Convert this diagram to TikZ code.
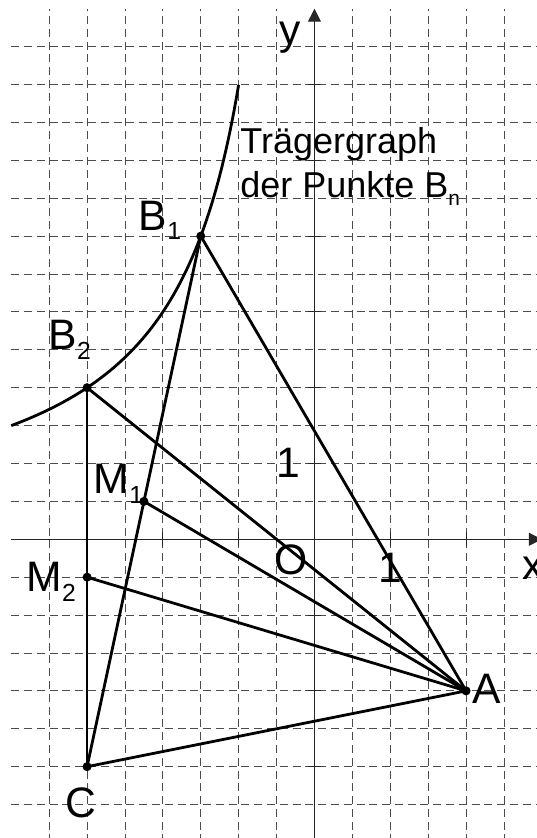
\documentclass[tikz,border=0pt]{standalone}
\usepackage{fontspec}
\setmainfont{Liberation Sans}
\usetikzlibrary{arrows.meta}
\newcommand\lowsub[1]{\raisebox{-.23em}{\scalebox{.58}{#1}}}

\begin{document}
\begin{tikzpicture}[x=2cm,y=2cm,
  grid/.style={black!70,line width=.7pt,dash pattern=on 6pt off 3.6pt},
  axis/.style={black!85,line width=.75pt},
  seg/.style={line width=2.1pt,line join=round},
  lab/.style={inner sep=0pt,font=\fontsize{32}{38}\selectfont},
  note/.style={inner sep=0pt,align=left,font=\fontsize{27}{33}\selectfont}]
\clip (-4.149,-3.941) rectangle (2.935,7.115);
\foreach \v in {-3.5,-3,...,-.5,.5,1,...,2.5}
  \draw[grid] (\v,-4)--(\v,7);
\foreach \h in {-3.5,-3,...,-.5,.5,1,...,6.5}
  \draw[grid] (-4,\h)--(3,\h);
\draw[axis,-{Triangle[length=3.4mm,width=3.4mm]}] (-4,0)--(3,0);
\draw[axis,-{Triangle[length=3.4mm,width=3.4mm]}] (0,-4)--(0,7);
\foreach \t in {-3,...,-1,1,2}
  \draw[axis] (\t,-.09)--(\t,.09);
\foreach \t in {-3,...,-1,1,2,...,6}
  \draw[axis] (-.09,\t)--(.09,\t);
\coordinate (A) at (2,-2);
\coordinate (C) at (-3,-3);
\coordinate (B1) at (-1.5,4);
\coordinate (B2) at (-3,2);
\coordinate (M1) at (-2.25,.5);
\coordinate (M2) at (-3,-.5);
\draw[seg] plot[domain=-4:-1,samples=80,smooth] (\x,{-6/\x});
\foreach \p in {B1,B2,M1,M2,C}
  \draw[seg] (A)--(\p);
\draw[seg] (B1)--(C);
\draw[seg] (B2)--(C);
\foreach \p in {A,B1,B2,M1,M2,C}
  \fill (\p) circle (3.4pt);
\node[lab,anchor=base west] (labA) at (2.08,-2.16) {A};
\node[lab] (labC) at (-3.08,-3.476) {C};
\node[lab,anchor=base west] (labB1) at (-2.32,4.08) {B\lowsub{1}};
\node[lab,anchor=base west] (labB2) at (-3.51,2.507) {B\lowsub{2}};
\node[lab,anchor=base west] (labM1) at (-2.913,.607) {M\lowsub{1}};
\node[lab,anchor=base west] (labM2) at (-3.8,-.691) {M\lowsub{2}};
\node[lab] (labO) at (-.303,-.273) {O};
\node[lab] (labX1) at (.996,-.372) {1};
\node[lab] (labY1) at (-.346,1.013) {1};
\node[lab,anchor=base west] (labx) at (2.74,-.537) {x};
\node[lab,anchor=base] (laby) at (-.323,6.525) {y};
\node[note,anchor=north west] (carrier) at (-.98,5.44) {Trägergraph\\der Punkte B\lowsub{n}};
\end{tikzpicture}
\end{document}
